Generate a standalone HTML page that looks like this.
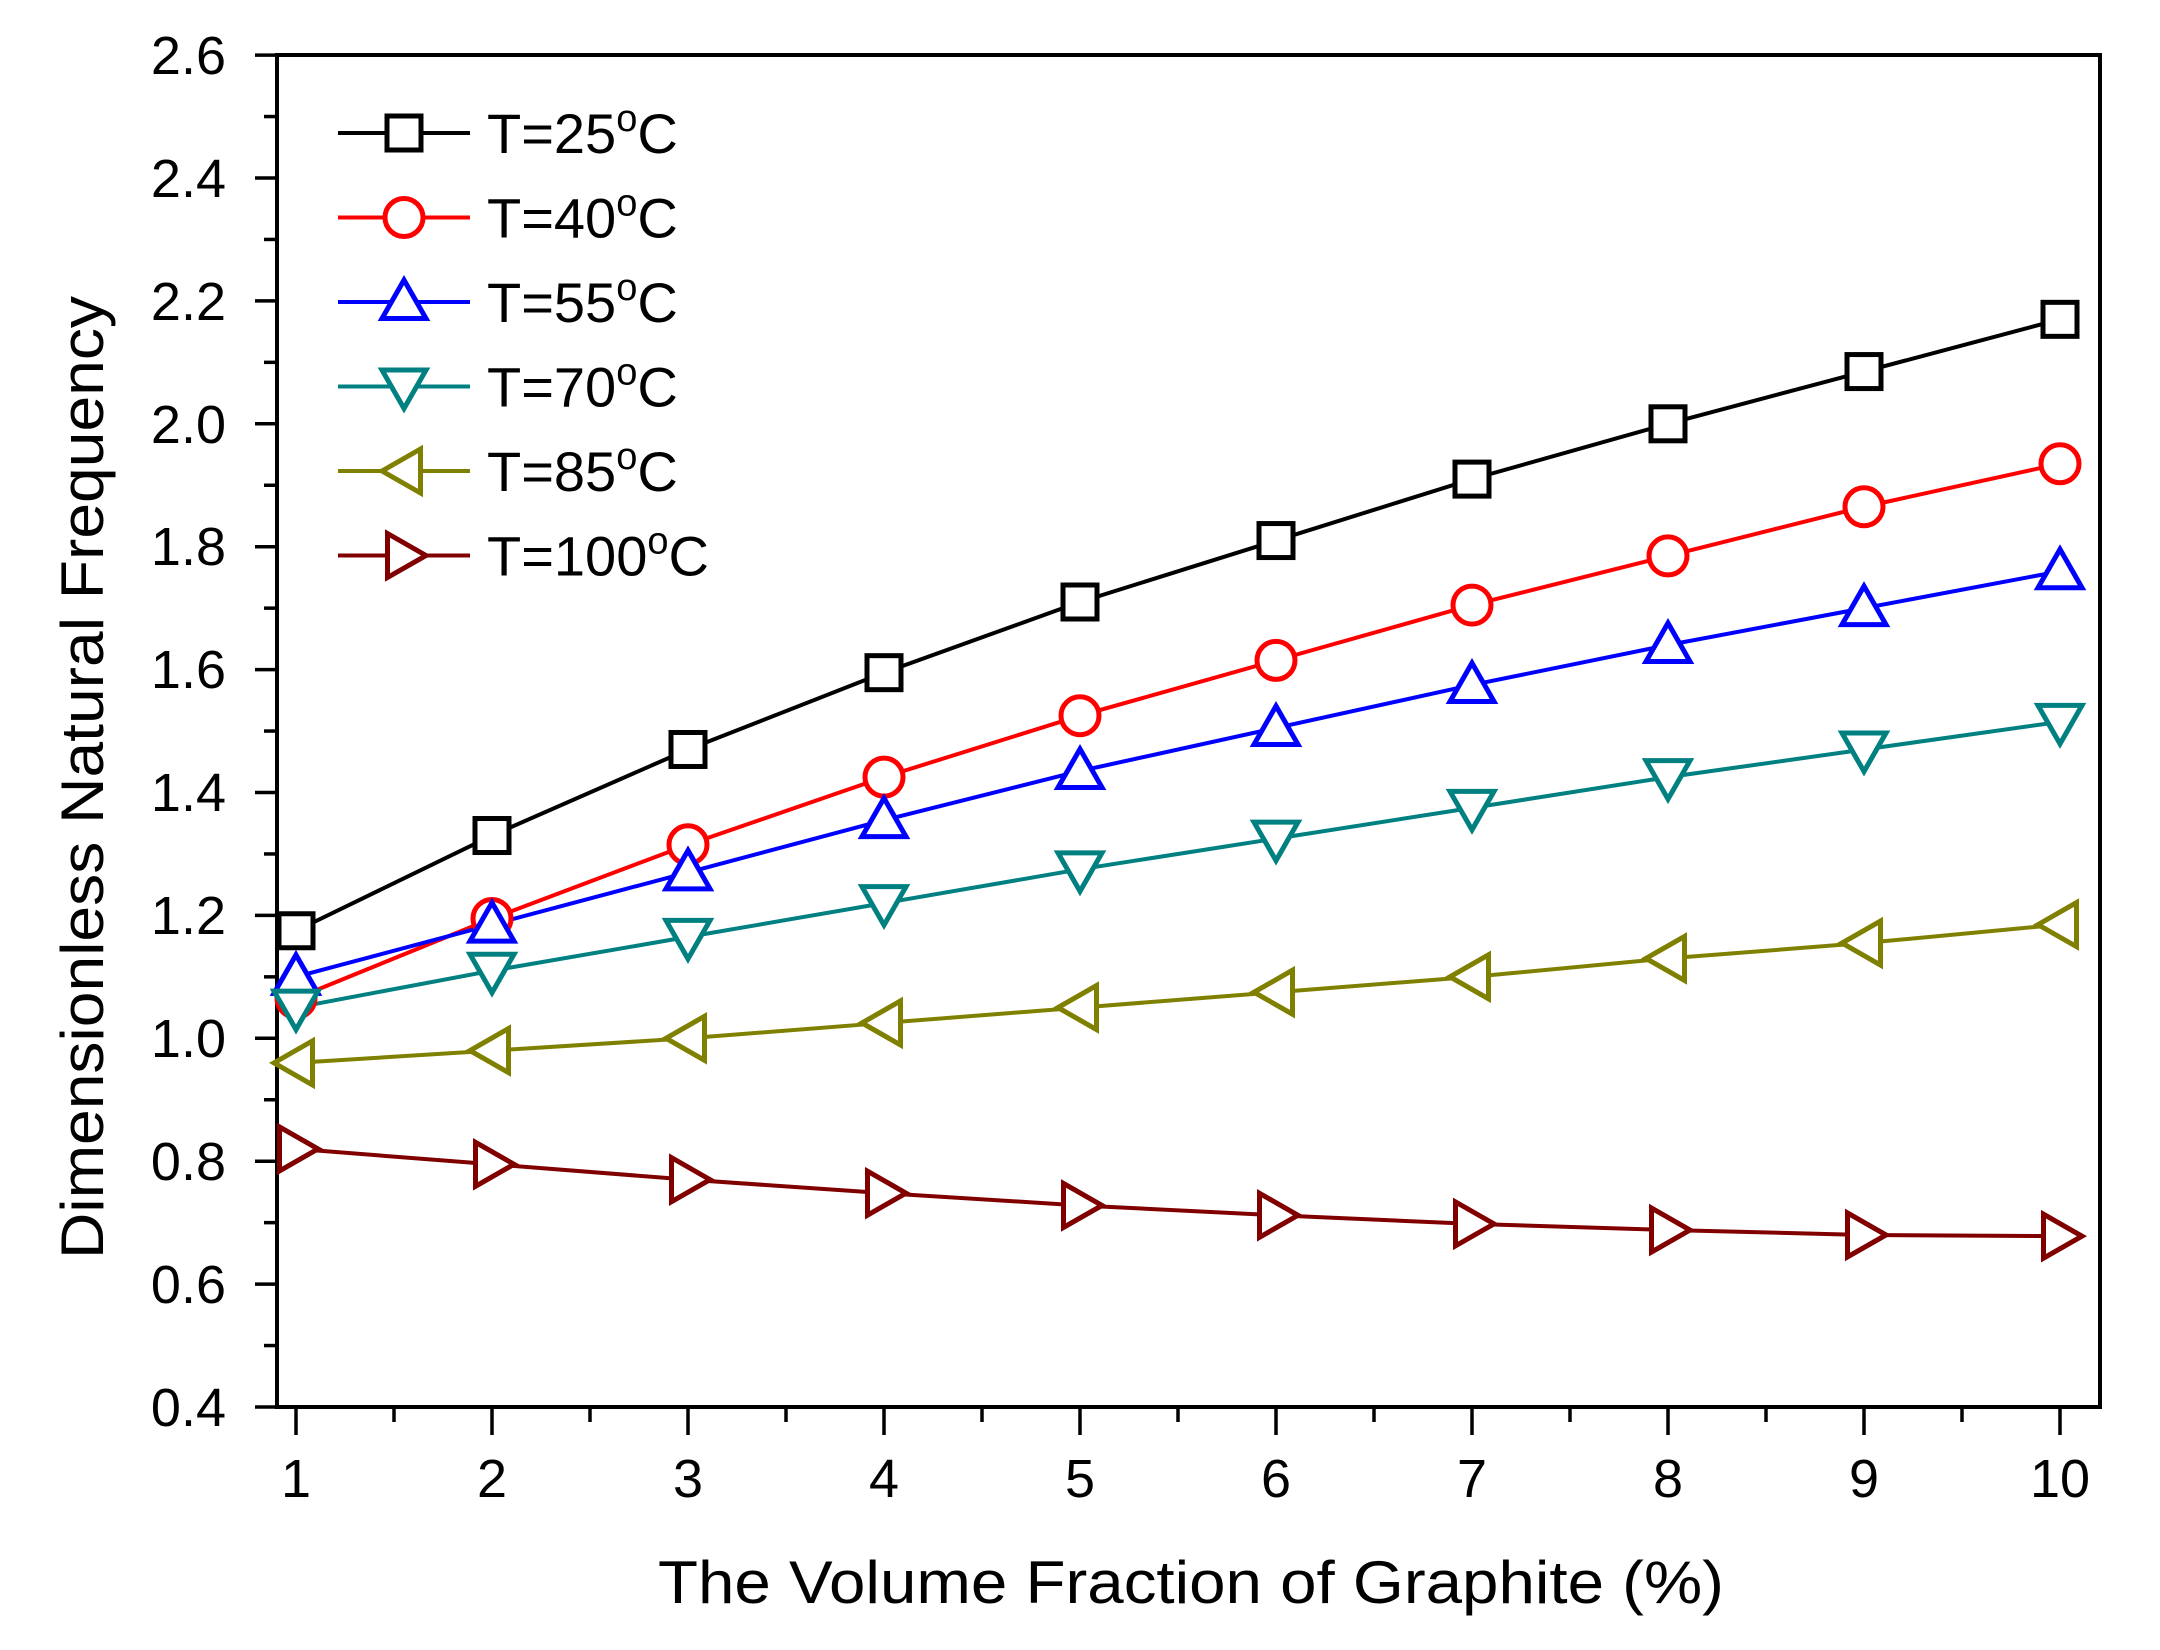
<!DOCTYPE html>
<html><head><meta charset="utf-8"><style>html,body{margin:0;padding:0;background:#fff}svg{display:block}text{font-family:"Liberation Sans",Arial,sans-serif;fill:#000}</style></head>
<body>
<svg id="s" width="2160" height="1650" viewBox="0 0 2160 1650" xmlns="http://www.w3.org/2000/svg">
<rect x="277" y="55" width="1823" height="1352" fill="none" stroke="#000" stroke-width="4"/>
<g id="ticks" stroke="#000" stroke-width="3.5"></g>
<g font-size="54" text-anchor="end">
<text x="226" y="1426">0.4</text><text x="226" y="1303">0.6</text><text x="226" y="1180">0.8</text><text x="226" y="1057">1.0</text><text x="226" y="934">1.2</text><text x="226" y="811">1.4</text><text x="226" y="688">1.6</text><text x="226" y="565">1.8</text><text x="226" y="443">2.0</text><text x="226" y="320">2.2</text><text x="226" y="197">2.4</text><text x="226" y="74">2.6</text>
</g>
<g font-size="54" text-anchor="middle">
<text x="296" y="1497">1</text><text x="492" y="1497">2</text><text x="688" y="1497">3</text><text x="884" y="1497">4</text><text x="1080" y="1497">5</text><text x="1276" y="1497">6</text><text x="1472" y="1497">7</text><text x="1668" y="1497">8</text><text x="1864" y="1497">9</text><text x="2060" y="1497">10</text>
</g>
<text x="658" y="1603" font-size="60" textLength="1066" lengthAdjust="spacingAndGlyphs">The Volume Fraction of Graphite (%)</text>
<text transform="translate(103,1259) rotate(-90)" font-size="60" textLength="963" lengthAdjust="spacingAndGlyphs">Dimensionless Natural Frequency</text>
<g id="series"></g>
<g id="legend" font-size="56"></g>
</svg>
<script>
var ns="http://www.w3.org/2000/svg";
function el(t,a,p){var e=document.createElementNS(ns,t);for(var k in a)e.setAttribute(k,a[k]);(p||document.getElementById('series')).appendChild(e);return e;}
var tk=document.getElementById('ticks');
for(var i=0;i<=22;i++){var y=1407-i*61.45;var L=(i%2==0)?22:13;el('line',{x1:277-L,y1:y,x2:277,y2:y},tk);}
for(var i=0;i<=18;i++){var x=296+i*98;var L=(i%2==0)?28:15;el('line',{x1:x,y1:1407,x2:x,y2:1407+L},tk);}
function X(v){return 296+(v-1)*196;} function Y(v){return 1407-(v-0.4)/0.2*122.9;}
var S=[
{c:'#000',m:'sq',d:[1.175,1.33,1.47,1.595,1.71,1.81,1.91,2.0,2.085,2.17]},
{c:'#ff0000',m:'ci',d:[1.065,1.195,1.315,1.425,1.525,1.615,1.705,1.785,1.865,1.935]},
{c:'#0000ff',m:'up',d:[1.10,1.185,1.27,1.355,1.435,1.505,1.575,1.64,1.70,1.76]},
{c:'#008080',m:'dn',d:[1.05,1.11,1.165,1.22,1.275,1.325,1.375,1.425,1.47,1.515]},
{c:'#808000',m:'lt',d:[0.96,0.98,1.0,1.025,1.05,1.075,1.10,1.13,1.155,1.185]},
{c:'#800000',m:'rt',d:[0.82,0.795,0.77,0.748,0.728,0.712,0.698,0.688,0.68,0.678]}];
function mk(m,x,y,c,g){var a={fill:'#fff',stroke:c,'stroke-width':5};
 if(m=='sq'){a.x=x-17;a.y=y-17;a.width=34;a.height=34;el('rect',a,g);}
 else if(m=='ci'){a.cx=x;a.cy=y;a.r=19;el('circle',a,g);}
 else{var r=22,p;
  if(m=='up')p=[[x,y-r],[x+r,y+r*0.75],[x-r,y+r*0.75]];
  if(m=='dn')p=[[x,y+r],[x+r,y-r*0.75],[x-r,y-r*0.75]];
  if(m=='lt')p=[[x-r,y],[x+r*0.75,y-r],[x+r*0.75,y+r]];
  if(m=='rt')p=[[x+r,y],[x-r*0.75,y-r],[x-r*0.75,y+r]];
  a.points=p.map(function(q){return q.join(',')}).join(' ');el('polygon',a,g);}}
S.forEach(function(s){var pts=s.d.map(function(v,i){return X(i+1)+','+Y(v)}).join(' ');
 el('polyline',{points:pts,fill:'none',stroke:s.c,'stroke-width':4});});
S.forEach(function(s){s.d.forEach(function(v,i){mk(s.m,X(i+1),Y(v),s.c);});});
var lg=document.getElementById('legend');
var labels=['T=25','T=40','T=55','T=70','T=85','T=100'];
S.forEach(function(s,i){var y=133+i*84.5;
 el('line',{x1:338,y1:y,x2:470,y2:y,stroke:s.c,'stroke-width':4},lg);
 mk(s.m,404,y,s.c,lg);
 var t=el('text',{x:487,y:y+20},lg);t.textContent=labels[i];
 var o=el('tspan',{dy:-22,'font-size':38},t);o.textContent='o';
 var c=el('tspan',{dy:22},t);c.textContent='C';});
</script>
</body></html>
